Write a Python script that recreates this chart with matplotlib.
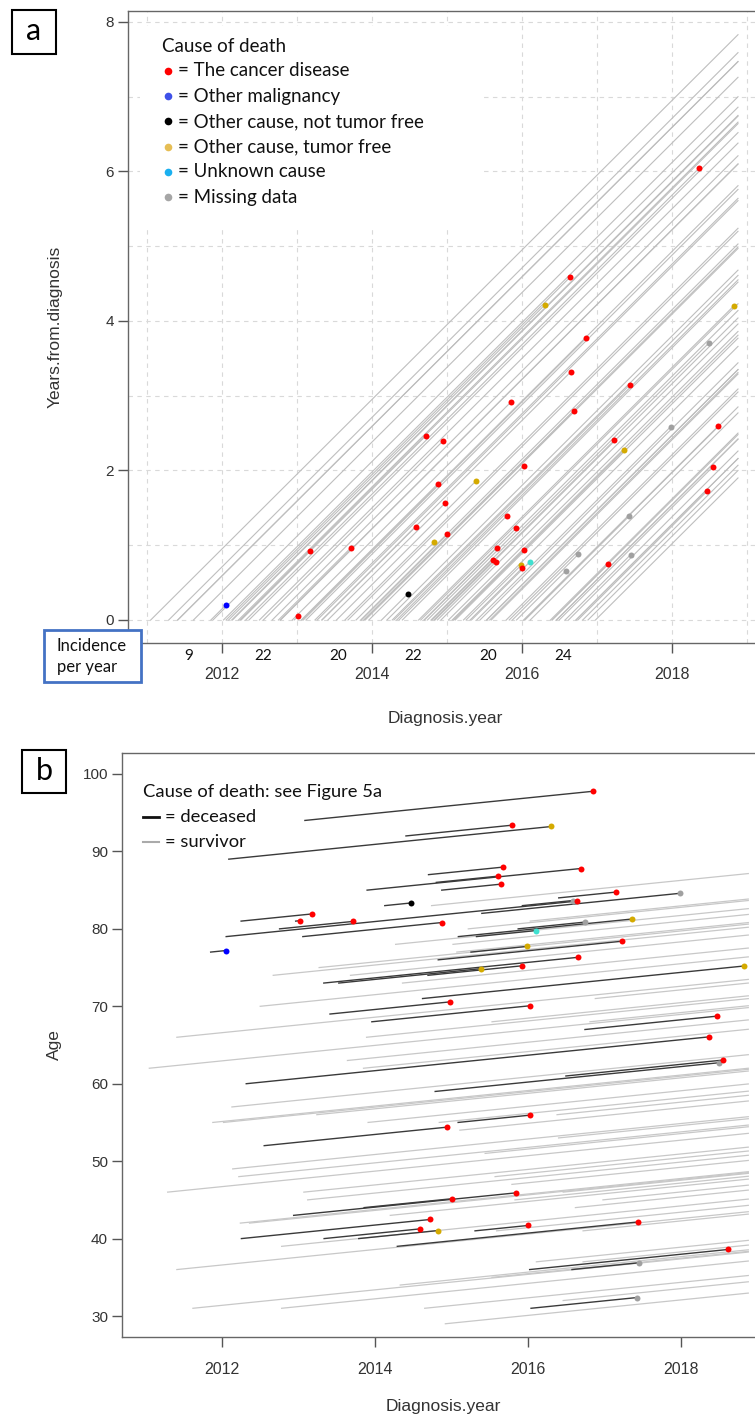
import matplotlib
matplotlib.use("Agg")
import matplotlib.pyplot as plt
from matplotlib.patches import Rectangle
from matplotlib.lines import Line2D
from matplotlib.ticker import MultipleLocator

plt.rcParams['font.family'] = ['Liberation Sans', 'DejaVu Sans']

# end of follow-up (calendar year)
END = 2018.88

# deceased patients: diagnosis date, years to death, age at diagnosis, cause
dead_diag = [2013.084, 2013.331, 2014.292, 2012.937, 2013.897, 2014.787, 2015.397, 2016.022,
             2012.254, 2012.552, 2014.827, 2015.090, 2013.959, 2013.527, 2013.057, 2016.496,
             2016.745, 2013.412, 2013.335, 2014.405, 2014.693, 2013.788, 2013.858, 2014.700,
             2014.802, 2014.873, 2015.087, 2015.255, 2015.308, 2015.327, 2015.872, 2015.927,
             2016.040, 2016.575, 2016.402, 2014.128, 2012.317, 2012.089, 2012.055, 2014.622,
             2011.852, 2012.963, 2012.250, 2012.753]
dead_fu = [3.769, 3.322, 3.144, 2.912, 2.792, 3.710, 2.586, 2.595,
           2.466, 2.391, 2.404, 2.270, 2.064, 1.860, 1.819, 2.051,
           1.722, 1.565, 1.248, 1.391, 1.227, 1.039, 1.146, 0.967,
           0.807, 0.780, 0.936, 0.736, 0.692, 0.780, 0.879, 0.656,
           1.391, 0.874, 0.749, 0.348, 6.043, 4.218, 4.585, 4.201,
           0.197, 0.054, 0.923, 0.963]
dead_age = [94, 73, 39, 43, 85, 59, 82, 36,
            40, 52, 76, 79, 68, 73, 79, 61,
            67, 69, 40, 92, 74, 40, 44, 87,
            86, 85, 55, 77, 41, 79, 80, 83,
            31, 36, 84, 83, 60, 89, 79, 71,
            77, 81, 81, 80]
dead_cause = ['cancer', 'cancer', 'cancer', 'cancer', 'cancer', 'missing', 'missing', 'cancer',
              'cancer', 'cancer', 'cancer', 'free', 'cancer', 'free', 'cancer', 'cancer',
              'cancer', 'cancer', 'cancer', 'cancer', 'cancer', 'free', 'cancer', 'cancer',
              'cancer', 'cancer', 'cancer', 'free', 'cancer', 'unknown', 'missing', 'missing',
              'missing', 'missing', 'cancer', 'notfree', 'cancer', 'free', 'cancer', 'free',
              'malig', 'cancer', 'cancer', 'cancer']

# survivors: diagnosis date, age at diagnosis
surv_diag = [2011.05, 2011.29, 2011.41, 2011.41, 2011.62, 2011.88,
             2012.02, 2012.13, 2012.14, 2012.22, 2012.24, 2012.36, 2012.50, 2012.67, 2012.78, 2012.78,
             2013.07, 2013.12, 2013.24, 2013.27, 2013.64, 2013.68, 2013.85, 2013.89, 2013.91,
             2014.20, 2014.27, 2014.33, 2014.36, 2014.65, 2014.74, 2014.84, 2014.92,
             2015.02, 2015.07, 2015.11, 2015.22, 2015.44, 2015.53, 2015.53, 2015.57, 2015.59,
             2015.79, 2015.83,
             2016.03, 2016.11, 2016.38, 2016.40, 2016.46, 2016.46, 2016.62, 2016.72, 2016.72,
             2016.81, 2016.88, 2016.98]
surv_age = [62, 46, 66, 36, 31, 55,
            55, 57, 49, 48, 42, 42, 70, 74, 39, 31,
            46, 45, 56, 75, 63, 74, 62, 66, 55,
            43, 78, 34, 73, 31, 83, 55, 29,
            78, 77, 54, 80, 51, 68, 35, 48, 41,
            47, 45,
            81, 37, 56, 53, 46, 32, 44, 41, 37,
            68, 71, 45]

# incidence per year
inc_years = [2011, 2012, 2013, 2014, 2015, 2016]
inc_counts = [9, 22, 20, 22, 20, 24]

cause_color = {'cancer': '#FF0000', 'malig': '#0000FF', 'notfree': '#000000',
               'free': '#D4AA00', 'unknown': '#40E0D0', 'missing': '#A0A0A0'}
legend_labels = ['= The cancer disease', '= Other malignancy', '= Other cause, not tumor free',
                 '= Other cause, tumor free', '= Unknown cause', '= Missing data']
legend_colors = ['#FF0000', '#3F51E8', '#000000', '#E6BE55', '#1AB0F0', '#A6A6A6']

W, H = 755, 1416
fig = plt.figure(figsize=(W / 100, H / 100), dpi=100)


def fx(x):
    return x / W


def fy(y):
    return 1 - y / H


LEG_FONT = ['Lato', 'DejaVu Sans']
LEG_SIZE = 13.5

# ---------------- panel a ----------------
ax = fig.add_axes([fx(128), fy(643), (762 - 128) / W, 632 / H])
ax.set_xlim(2010.747, 2019.2)
ax.set_ylim(-0.308, 8.147)
ax.set_axisbelow(True)

for d, a in zip(surv_diag, surv_age):
    ax.plot([d, END], [0, END - d], color='#BEBEBE', lw=0.8, zorder=2)
for d, t in zip(dead_diag, dead_fu):
    ax.plot([d, d + t], [0, t], color='#BEBEBE', lw=0.8, zorder=2)
for d, t, c in zip(dead_diag, dead_fu, dead_cause):
    ax.plot(d + t, t, 'o', color=cause_color[c], ms=4.3, mec='none', zorder=4)

ax.xaxis.set_major_locator(MultipleLocator(2))
ax.xaxis.set_minor_locator(MultipleLocator(1))
ax.yaxis.set_major_locator(MultipleLocator(2))
ax.yaxis.set_minor_locator(MultipleLocator(1))
ax.grid(True, which='both', ls=(0, (4, 4)), color='#D9D9D9', lw=0.8)
ax.tick_params(which='minor', length=0)
ax.tick_params(which='major', direction='out', length=7, width=1, color='#555555',
               labelcolor='#333333')
ax.tick_params(axis='x', pad=10.5, labelsize=11.5)
ax.tick_params(axis='y', pad=3, labelsize=11)
ax.spines['right'].set_visible(False)
for s in ['left', 'bottom', 'top']:
    ax.spines[s].set_color('#666666')
    ax.spines[s].set_linewidth(1)

# white legend area
ax.add_patch(Rectangle((2010.907, 5.244), 4.533, 2.702, facecolor='white',
                       edgecolor='none', zorder=1))

for yr, n in zip(inc_years, inc_counts):
    ax.text(yr + 0.55, -0.021, str(n), transform=ax.get_xaxis_transform(),
            ha='center', va='center', fontsize=11, family=LEG_FONT, color='#111111')

fig.text(fx(55), fy(327), 'Years.from.diagnosis', rotation=90, ha='center', va='center',
         fontsize=12.5, color='#333333')
fig.text(fx(445), fy(718), 'Diagnosis.year', ha='center', va='center',
         fontsize=12.5, color='#333333')

fig.text(fx(162), fy(46), 'Cause of death', ha='left', va='center', fontsize=LEG_SIZE,
         family=LEG_FONT, color='#111111')
for i, (lab, col) in enumerate(zip(legend_labels, legend_colors)):
    yy = 71 + i * 25.2
    fig.add_artist(Line2D([fx(168)], [fy(yy)], marker='o', ms=5.5, color=col, mec='none',
                          ls='none', transform=fig.transFigure))
    fig.text(fx(178), fy(yy), lab, ha='left', va='center', fontsize=LEG_SIZE,
             family=LEG_FONT, color='#111111')

# "a" box
fig.add_artist(Rectangle((fx(12), fy(54)), 44 / W, 44 / H, transform=fig.transFigure,
                         fill=False, ec='black', lw=1.5))
fig.text(fx(34), fy(31), 'a', ha='center', va='center', fontsize=22, family=LEG_FONT)

# incidence box
fig.add_artist(Rectangle((fx(44), fy(682)), 97 / W, 52 / H, transform=fig.transFigure,
                         facecolor='white', ec='#4472C4', lw=2))
fig.text(fx(57), fy(646), 'Incidence', ha='left', va='center', fontsize=12,
         family=LEG_FONT, color='#111111')
fig.text(fx(57), fy(667), 'per year', ha='left', va='center', fontsize=12,
         family=LEG_FONT, color='#111111')

# ---------------- panel b ----------------
bx = fig.add_axes([fx(122), fy(1337), (773 - 122) / W, 584 / H])
bx.set_xlim(2010.693, 2019.203)
bx.set_ylim(27.29, 102.71)

for d, a in zip(surv_diag, surv_age):
    bx.plot([d, END], [a, a + END - d], color='#C8C8C8', lw=0.9, zorder=2)
for d, t, a in zip(dead_diag, dead_fu, dead_age):
    bx.plot([d, d + t], [a, a + t], color='#3A3A3A', lw=1.0, zorder=3)
for d, t, a, c in zip(dead_diag, dead_fu, dead_age, dead_cause):
    bx.plot(d + t, a + t, 'o', color=cause_color[c], ms=4.3, mec='none', zorder=4)

bx.xaxis.set_major_locator(MultipleLocator(2))
bx.yaxis.set_major_locator(MultipleLocator(10))
bx.tick_params(direction='out', length=7, width=1, color='#555555',
               labelcolor='#333333')
bx.tick_params(axis='x', pad=11, labelsize=11.5)
bx.tick_params(axis='y', pad=3, labelsize=11)
bx.spines['right'].set_visible(False)
for s in ['left', 'bottom', 'top']:
    bx.spines[s].set_color('#666666')
    bx.spines[s].set_linewidth(1)

fig.text(fx(54), fy(1045), 'Age', rotation=90, ha='center', va='center',
         fontsize=12.5, color='#333333')
fig.text(fx(443), fy(1406), 'Diagnosis.year', ha='center', va='center',
         fontsize=12.5, color='#333333')

fig.text(fx(143), fy(792), 'Cause of death: see Figure 5a', ha='left', va='center',
         fontsize=13.2, family=LEG_FONT, color='#111111')
fig.add_artist(Line2D([fx(143), fx(159)], [fy(817), fy(817)], color='#111111', lw=2,
                      transform=fig.transFigure))
fig.text(fx(165), fy(817), '= deceased', ha='left', va='center', fontsize=13.2,
         family=LEG_FONT, color='#111111')
fig.add_artist(Line2D([fx(143), fx(159)], [fy(842), fy(842)], color='#AAAAAA', lw=1.5,
                      transform=fig.transFigure))
fig.text(fx(165), fy(842), '= survivor', ha='left', va='center', fontsize=13.2,
         family=LEG_FONT, color='#111111')

# "b" box
fig.add_artist(Rectangle((fx(22), fy(793)), 44 / W, 43 / H, transform=fig.transFigure,
                         fill=False, ec='black', lw=1.5))
fig.text(fx(44), fy(771), 'b', ha='center', va='center', fontsize=22, family=LEG_FONT)

fig.savefig('out.png', dpi=100)
